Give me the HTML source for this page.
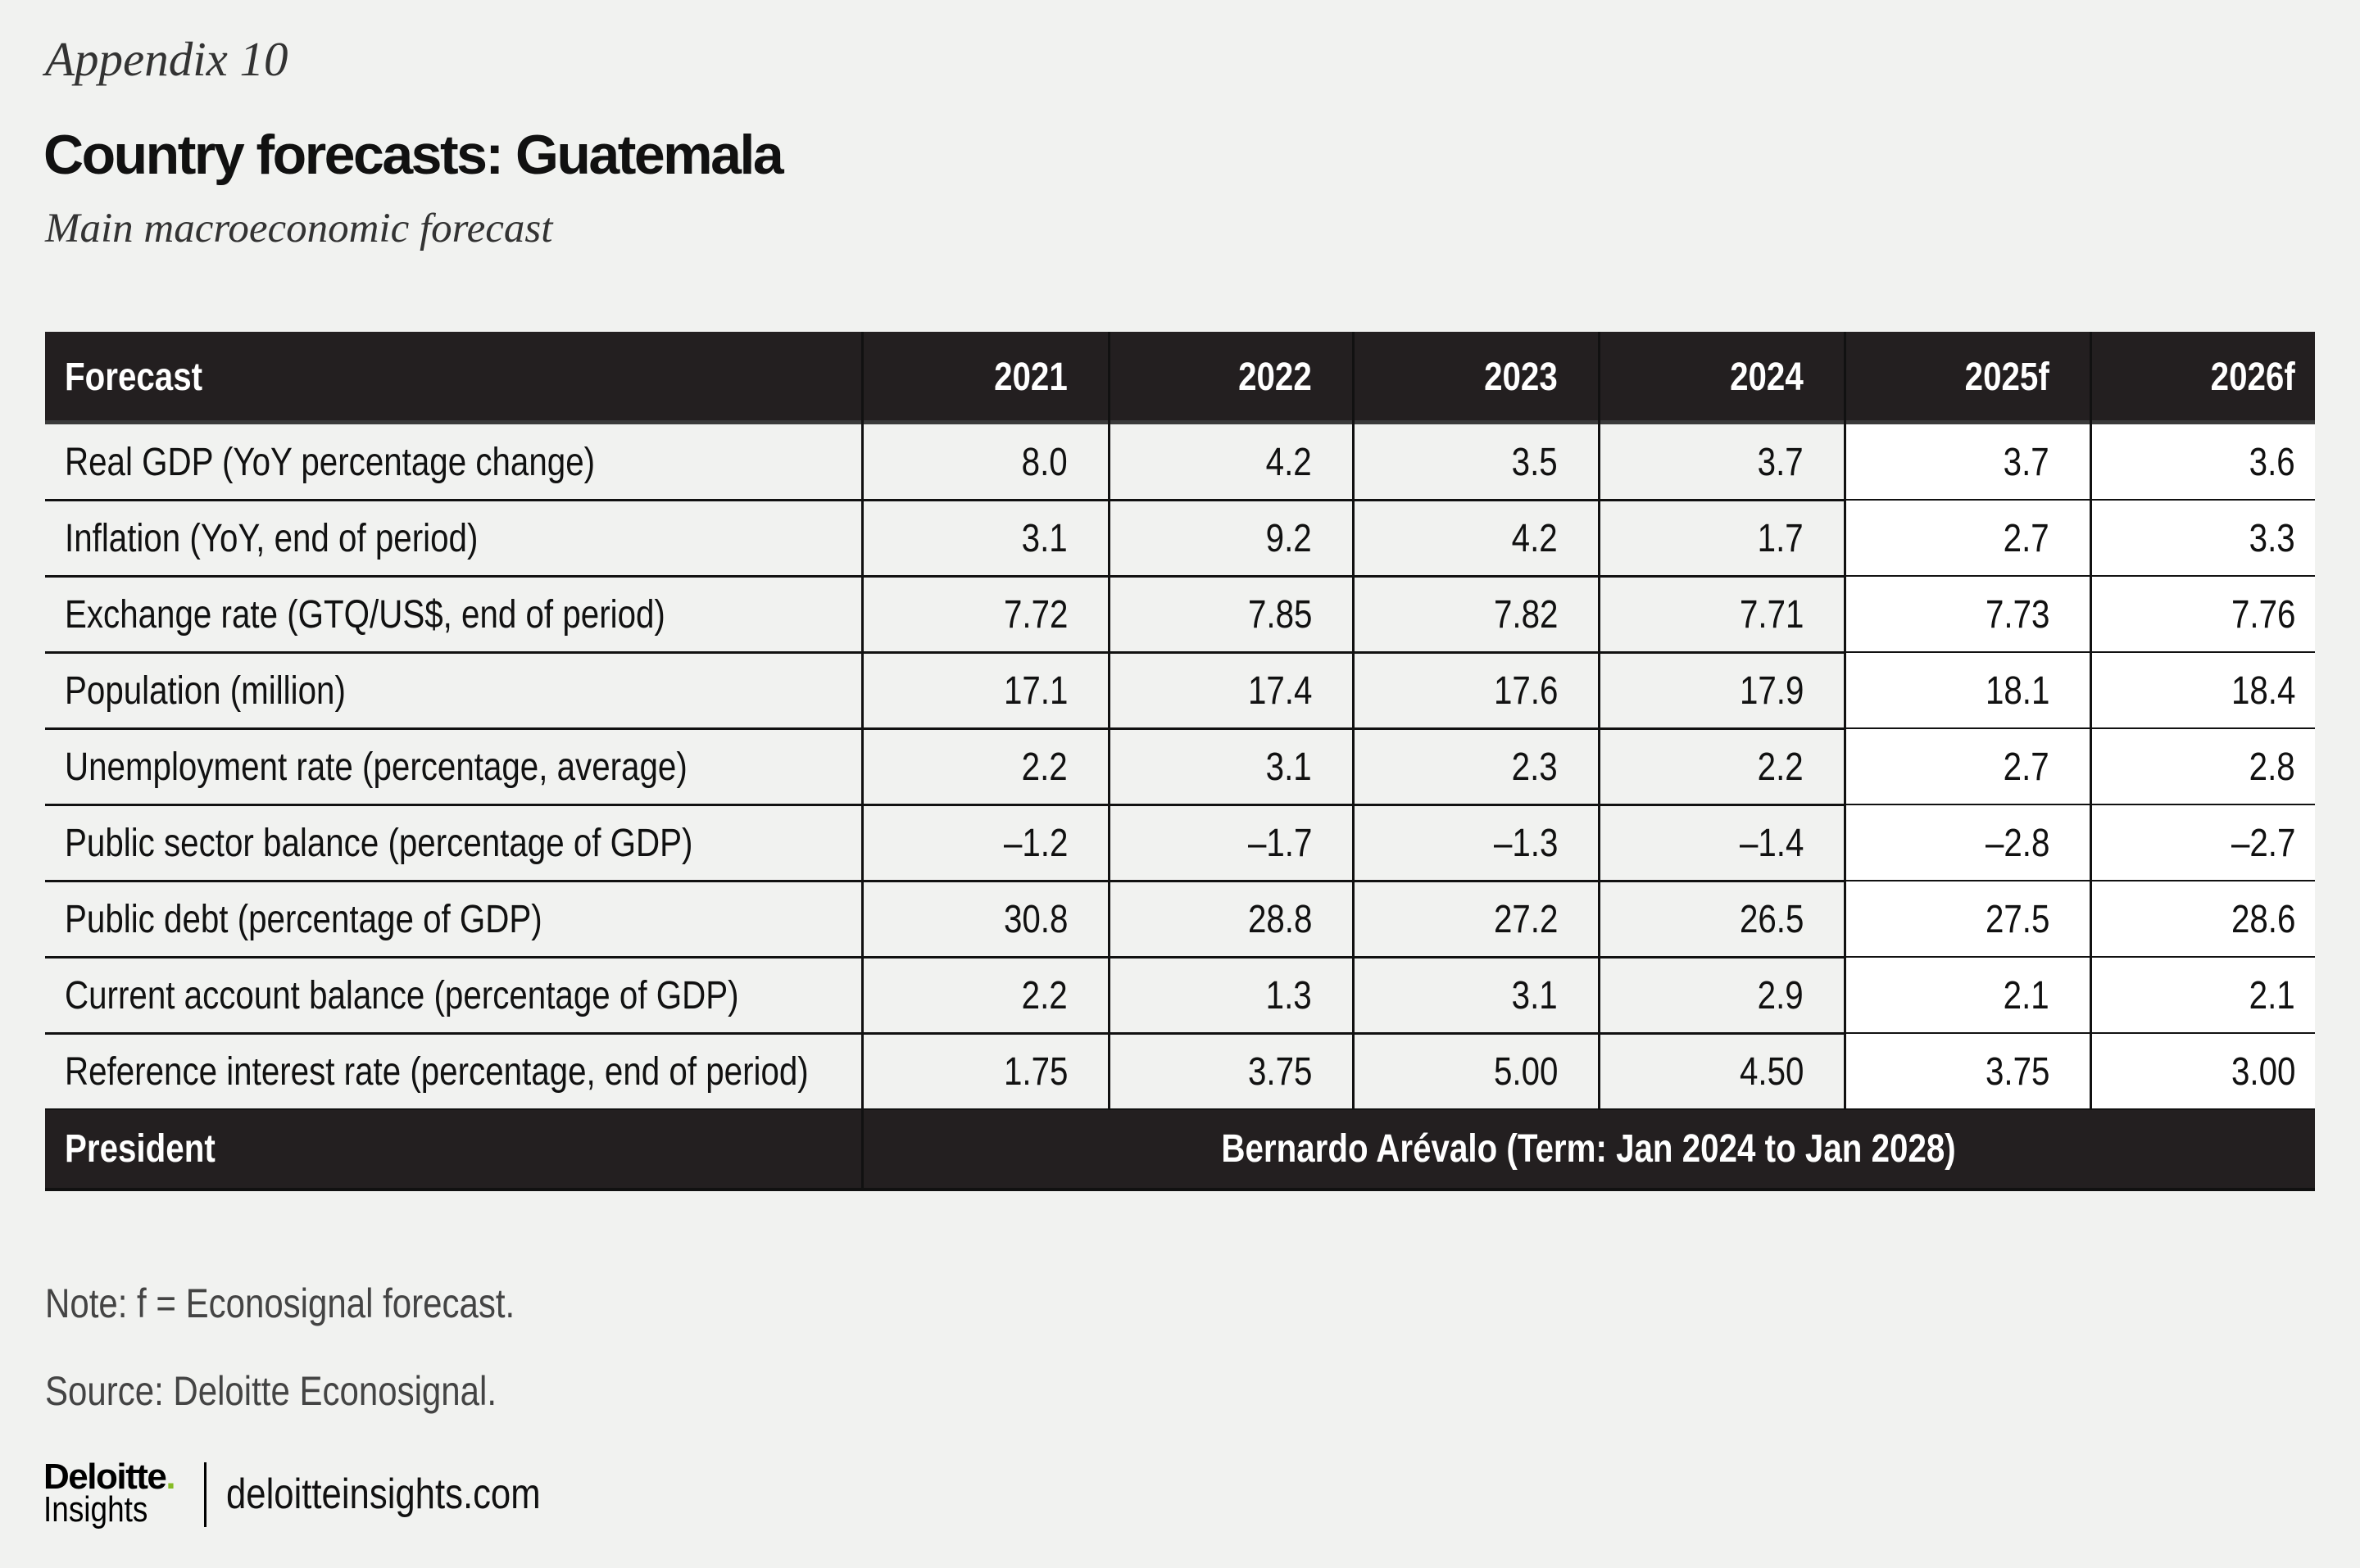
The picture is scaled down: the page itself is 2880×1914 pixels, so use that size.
<!DOCTYPE html>
<html><head><meta charset="utf-8"><style>
html,body{margin:0;padding:0}
body{width:2880px;height:1914px;background:#f1f2f0;position:relative;overflow:hidden;font-family:"Liberation Sans",sans-serif;color:#111}
.abs{position:absolute;white-space:nowrap}
.sx{transform:scaleX(.84);transform-origin:left center}
.serif{font-family:"Liberation Serif",serif;font-style:italic;color:#333}
.cell{position:absolute;box-sizing:border-box;display:flex;align-items:center;font-size:48px;white-space:nowrap}
.cell span{display:inline-block;transform:scaleX(.84)}
.num{justify-content:flex-end;padding-right:50px}
.num span{transform-origin:right center}
.lab{padding-left:24px}
.lab span{transform-origin:left center}
.hdr{background:#231f20;color:#fff;font-weight:bold}
</style></head><body>
<div class="abs serif" style="left:55px;top:38px;font-size:59px">Appendix 10</div>
<div class="abs" style="left:53px;top:150px;font-size:68px;font-weight:bold;letter-spacing:-2.5px;color:#111">Country forecasts: Guatemala</div>
<div class="abs serif" style="left:55px;top:250px;font-size:51px">Main macroeconomic forecast</div>
<div id="table"></div>
<div class="abs sx" style="left:55px;top:1562px;font-size:50px;color:#444">Note: f = Econosignal forecast.</div>
<div class="abs sx" style="left:55px;top:1669px;font-size:50px;color:#444">Source: Deloitte Econosignal.</div>
<div class="abs" style="left:53px;top:1778px;font-size:44px;font-weight:bold;color:#000;letter-spacing:-1.5px">Deloitte<span style="color:#86bc25">.</span></div>
<div class="abs sx" style="left:53px;top:1818px;font-size:44px;color:#000">Insights</div>
<div class="abs" style="left:249px;top:1785px;width:3px;height:79px;background:#000"></div>
<div class="abs sx" style="left:276px;top:1794px;font-size:52px;color:#111">deloitteinsights.com</div>
<script>
const years=["2021","2022","2023","2024","2025f","2026f"];
const labels=["Real GDP (YoY percentage change)","Inflation (YoY, end of period)","Exchange rate (GTQ/US$, end of period)","Population (million)","Unemployment rate (percentage, average)","Public sector balance (percentage of GDP)","Public debt (percentage of GDP)","Current account balance (percentage of GDP)","Reference interest rate (percentage, end of period)"];
const v2021=["8.0","3.1","7.72","17.1","2.2","\u20131.2","30.8","2.2","1.75"];
const v2022=["4.2","9.2","7.85","17.4","3.1","\u20131.7","28.8","1.3","3.75"];
const v2023=["3.5","4.2","7.82","17.6","2.3","\u20131.3","27.2","3.1","5.00"];
const v2024=["3.7","1.7","7.71","17.9","2.2","\u20131.4","26.5","2.9","4.50"];
const v2025=["3.7","2.7","7.73","18.1","2.7","\u20132.8","27.5","2.1","3.75"];
const v2026=["3.6","3.3","7.76","18.4","2.8","\u20132.7","28.6","2.1","3.00"];
const president="Bernardo Ar\u00e9valo (Term: Jan 2024 to Jan 2028)";
const cols=[v2021,v2022,v2023,v2024,v2025,v2026];
const xs=[55,1052,1353,1651,1951,2251,2551,2825];
const T=document.getElementById('table');
function cell(x,y,w,h,txt,cls,bg){const d=document.createElement('div');d.className='cell '+cls;d.style.left=x+'px';d.style.top=y+'px';d.style.width=w+'px';d.style.height=h+'px';if(bg)d.style.background=bg;const s=document.createElement('span');s.textContent=txt;d.appendChild(s);T.appendChild(d);return d;}
const top0=405,hh=110,rh=93;
let h=cell(xs[0],top0,xs[1]-xs[0],hh,"Forecast","hdr lab");


years.forEach((y,i)=>{const c=cell(xs[i+1],top0,xs[i+2]-xs[i+1],hh,y,"hdr num");
if(i==5)c.style.paddingRight='24px';

});
const strip=document.createElement('div');strip.className='abs';strip.style.cssText='left:55px;top:513px;width:2770px;height:5px;background:#3a3a3a';T.appendChild(strip);


labels.forEach((l,r)=>{const y=518+r*rh;
const a=cell(xs[0],y,xs[1]-xs[0],rh,l,"lab");


cols.forEach((col,i)=>{const c=cell(xs[i+1],y,xs[i+2]-xs[i+1],rh,col[r],"num",i>=4?"#fff":null);
if(i==5)c.style.paddingRight='24px';

});
const ln=document.createElement('div');ln.className='abs';ln.style.cssText='left:55px;top:'+(y+rh-2)+'px;width:2770px;height:3px;background:#111';T.appendChild(ln);

});
const py=518+9*rh;
const p=cell(xs[0],py,xs[1]-xs[0],95,"President","hdr lab");


const pv=cell(xs[1],py,xs[7]-xs[1],95,president,"hdr");pv.style.justifyContent='center';


const bl=document.createElement('div');bl.className='abs';bl.style.cssText='left:55px;top:'+(py+95)+'px;width:2770px;height:4px;background:#111';T.appendChild(bl);


for(let i=1;i<7;i++){const v=document.createElement('div');v.className='abs';v.style.cssText='left:'+(xs[i]-1)+'px;top:'+top0+'px;width:3px;height:'+(py-top0+(i==1?95:0))+'px;background:#111';T.appendChild(v);

}
</script>
</body></html>
